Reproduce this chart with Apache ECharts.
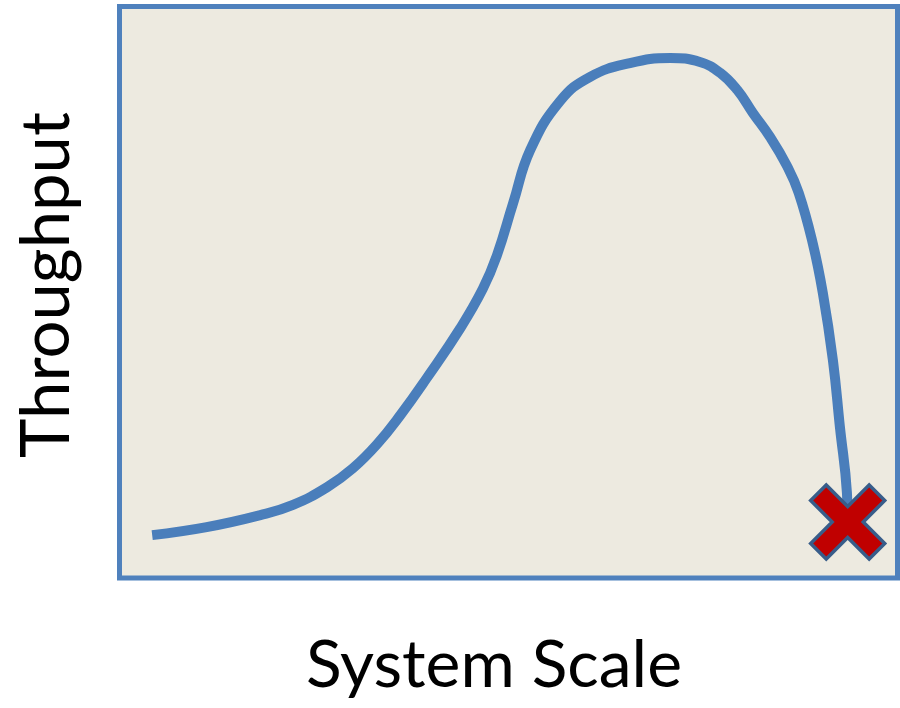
<!DOCTYPE html>
<html>
<head>
<meta charset="utf-8">
<script src="https://cdn.jsdelivr.net/npm/echarts@6/dist/echarts.min.js"></script>
<style>
  html, body { margin: 0; padding: 0; background: #ffffff; }
  #chart { width: 900px; height: 708px; }
</style>
</head>
<body>
<div id="chart"></div>
<script>
// Throughput as a function of system scale (arbitrary 0-100 units on both axes)
const scaleValues = [4.2, 11.2, 18.1, 22.3, 26.7, 30.0, 33.1, 36.1, 39.5, 43.8, 46.7, 48.5, 50.6, 52.8, 56.6, 60.5, 65.6, 70.8, 74.6, 77.2, 79.4, 81.4, 83.6, 85.8, 87.3, 89.1, 90.4, 91.7, 92.6, 93.5, 93.6];
const throughputValues = [7.5, 8.9, 11.0, 12.8, 15.9, 19.2, 23.4, 28.5, 35.0, 43.7, 50.6, 56.4, 65.6, 74.9, 83.4, 87.7, 90.1, 91.0, 90.3, 88.4, 85.4, 81.4, 77.2, 72.1, 67.4, 58.6, 49.9, 38.1, 26.4, 14.9, 9.8];
const xTitle = 'System Scale';
const yTitle = 'Throughput';

const curve = scaleValues.map((x, i) => [x, throughputValues[i]]);
const failurePoint = [curve[curve.length - 1]];

// X-shaped "failure" glyph
const d = 21;
const crossPath = 'path://M0,' + d + ' L' + d + ',0 L50,' + (50 - d) + ' L' + (100 - d) + ',0 L100,' + d +
  ' L' + (50 + d) + ',50 L100,' + (100 - d) + ' L' + (100 - d) + ',100 L50,' + (50 + d) +
  ' L' + d + ',100 L0,' + (100 - d) + ' L' + (50 - d) + ',50 Z';

const titleFont = 'Lato, "Open Sans", sans-serif';

const chart = echarts.init(document.getElementById('chart'), null, { renderer: 'canvas' });
chart.setOption({
  animation: false,
  backgroundColor: '#ffffff',
  grid: {
    left: 119.5, top: 6.5, width: 778, height: 571.5,
    show: true,
    backgroundColor: '#EDEAE0',
    borderColor: '#4F81BD',
    borderWidth: 5
  },
  xAxis: { type: 'value', min: 0, max: 100, show: false },
  yAxis: { type: 'value', min: 0, max: 100, show: false },
  series: [
    {
      type: 'line',
      data: curve,
      smooth: 0.45,
      showSymbol: false,
      lineStyle: { color: '#4A7EBB', width: 10, cap: 'butt' }
    },
    {
      type: 'scatter',
      data: failurePoint,
      symbol: crossPath,
      symbolSize: [74, 74],
      itemStyle: { color: '#C00000', borderColor: '#385D8A', borderWidth: 3.5, opacity: 1 },
      z: 5
    }
  ],
  graphic: [
    {
      type: 'text',
      x: 494, y: 666,
      style: {
        text: xTitle,
        font: '66px ' + titleFont,
        fill: '#000000',
        textAlign: 'center',
        textVerticalAlign: 'middle'
      }
    },
    {
      type: 'text',
      x: 47, y: 285,
      rotation: Math.PI / 2,
      style: {
        text: yTitle,
        font: '67px ' + titleFont,
        fill: '#000000',
        textAlign: 'center',
        textVerticalAlign: 'middle'
      }
    }
  ]
});
</script>
</body>
</html>
